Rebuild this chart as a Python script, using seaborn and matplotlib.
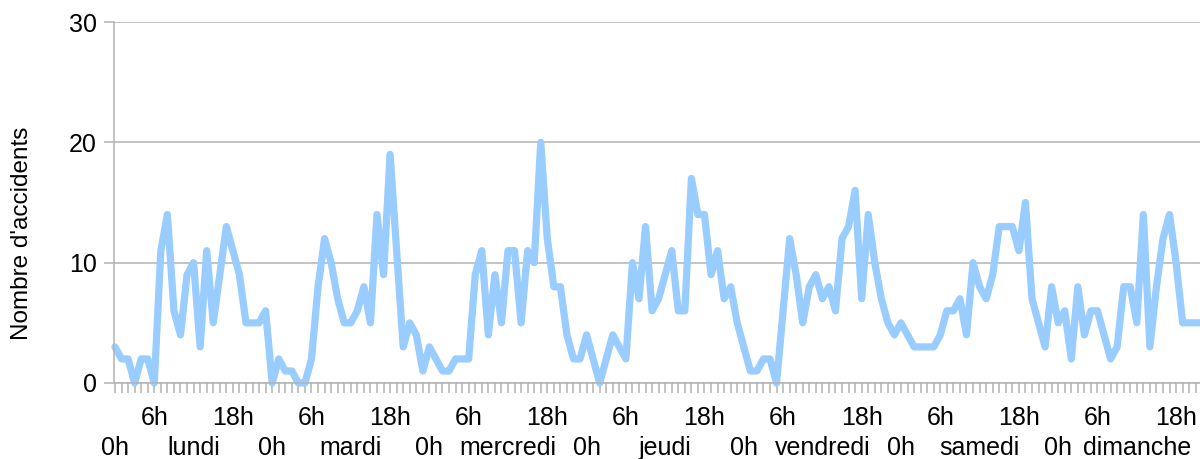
import matplotlib
matplotlib.use("Agg")
import matplotlib.pyplot as plt
from matplotlib.ticker import MultipleLocator, FixedLocator
import seaborn as sns
import pandas as pd

days = ["lundi", "mardi", "mercredi", "jeudi", "vendredi", "samedi", "dimanche"]

lundi = [3, 2, 2, 0, 2, 2, 0, 11, 14, 6, 4, 9, 10, 3, 11, 5, 9, 13, 11, 9, 5, 5, 5, 6]
mardi = [0, 2, 1, 1, 0, 0, 2, 8, 12, 10, 7, 5, 5, 6, 8, 5, 14, 9, 19, 11, 3, 5, 4, 1]
mercredi = [3, 2, 1, 1, 2, 2, 2, 9, 11, 4, 9, 5, 11, 11, 5, 11, 10, 20, 12, 8, 8, 4, 2, 2]
jeudi = [4, 2, 0, 2, 4, 3, 2, 10, 7, 13, 6, 7, 9, 11, 6, 6, 17, 14, 14, 9, 11, 7, 8, 5]
vendredi = [3, 1, 1, 2, 2, 0, 6, 12, 9, 5, 8, 9, 7, 8, 6, 12, 13, 16, 7, 14, 10, 7, 5, 4]
samedi = [5, 4, 3, 3, 3, 3, 4, 6, 6, 7, 4, 10, 8, 7, 9, 13, 13, 13, 11, 15, 7, 5, 3, 8]
dimanche = [5, 6, 2, 8, 4, 6, 6, 4, 2, 3, 8, 8, 5, 14, 3, 8, 12, 14, 10, 5, 5, 5, 5, 5]

values = lundi + mardi + mercredi + jeudi + vendredi + samedi + dimanche
hours = list(range(len(values)))
df = pd.DataFrame({"heure": hours, "accidents": values})

sns.set_theme(style="white")
plt.rcParams["font.family"] = ["Liberation Sans", "DejaVu Sans"]

GRAY = "#b3b3b3"
FS = 18
fig = plt.figure(figsize=(12, 4.59), dpi=100)
ax = fig.add_axes([114 / 1200, 1 - 383 / 459, 1 - 114 / 1200, (383 - 22) / 459])

sns.lineplot(data=df, x="heure", y="accidents", ax=ax, color="#99ccff",
             linewidth=5.2, clip_on=False, solid_joinstyle="round",
             solid_capstyle="round")

ax.set_xlim(-0.15, 165.65)
ax.set_ylim(0, 30)

# first row of x labels: 6h / 18h ; second row: 0h / day names
row1_pos, row1_lab, row2_pos, row2_lab = [], [], [], []
for d, name in enumerate(days):
    base = 24 * d
    row1_pos += [base + 6, base + 18]
    row1_lab += ["6h", "18h"]
    row2_pos += [base, base + 12]
    row2_lab += ["0h", name]

ax.xaxis.set_major_locator(FixedLocator(row1_pos))
ax.set_xticklabels(row1_lab, fontsize=FS, color="black")
ax.xaxis.set_minor_locator(MultipleLocator(1))
ax.tick_params(axis="x", which="both", length=7.2, width=1.1, color=GRAY,
               direction="out", bottom=True, pad=9.5)

sec = ax.secondary_xaxis("bottom")
sec.set_xticks(row2_pos)
sec.set_xticklabels(row2_lab, fontsize=FS, color="black")
sec.tick_params(axis="x", length=0, pad=38.5)
for s in sec.spines.values():
    s.set_visible(False)

ax.set_yticks([0, 10, 20, 30])
ax.set_yticklabels(["0", "10", "20", "30"], fontsize=FS, color="black")
ax.tick_params(axis="y", which="major", length=7.2, width=1.1, color=GRAY,
               direction="out", left=True, pad=5)
ax.grid(axis="y", color=GRAY, linewidth=1.1)
ax.grid(axis="x", visible=False)
ax.set_axisbelow(True)

for s in ["top", "right"]:
    ax.spines[s].set_visible(False)
for s in ["left", "bottom"]:
    ax.spines[s].set_color(GRAY)
    ax.spines[s].set_linewidth(1.1)

ax.set_xlabel("")
ax.set_ylabel("")
fig.text(22 / 1200, 1 - 233.5 / 459, "Nombre d'accidents", rotation=90,
         ha="center", va="center", fontsize=17.5, color="black")

fig.savefig("out.png", dpi=100)
